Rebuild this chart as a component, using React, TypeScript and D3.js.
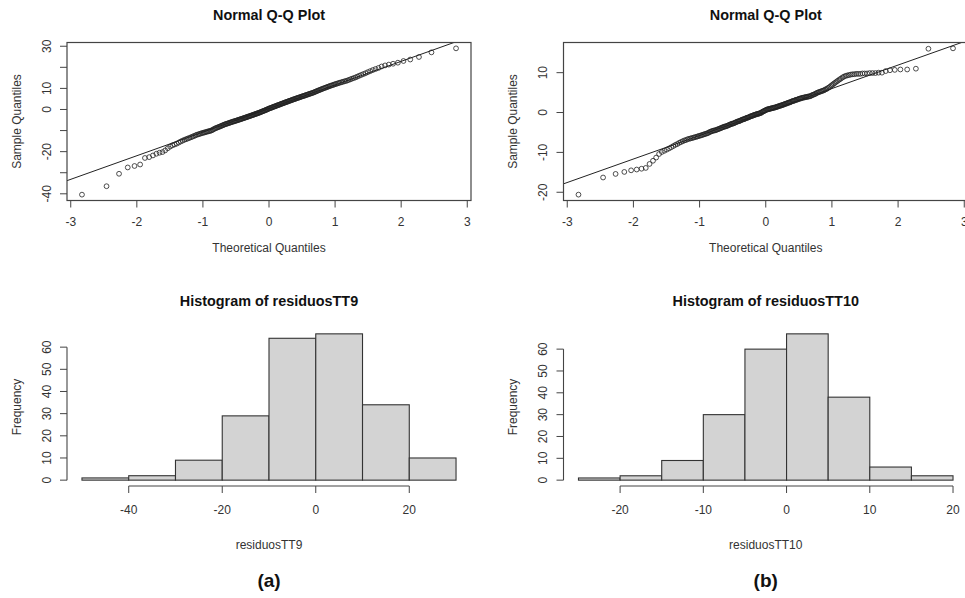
import * as d3 from "d3";

// sorted residuals (n = 215 each)
const residuosTT9 = [
  -40.4,
  -36.4, -30.5,
  -27.5, -26.8, -26.1, -23.0, -22.6, -21.8, -21.0, -20.5, -20.2,
  -19.4, -18.4, -17.6, -17.0, -16.6, -16.2, -15.7, -15.2, -14.8, -14.4,
  -14.1, -13.8, -13.5, -13.2, -12.9, -12.6, -12.3, -12.0, -11.8, -11.6,
  -11.4, -11.2, -11.0, -10.9, -10.7, -10.5, -10.4, -10.2, -10.1,
  -9.9, -9.6, -9.3, -9.0, -8.8, -8.6, -8.4, -8.2, -8.0, -7.8,
  -7.6, -7.4, -7.2, -7.0, -6.9, -6.7, -6.6, -6.4, -6.3, -6.1,
  -6.0, -5.8, -5.7, -5.6, -5.4, -5.3, -5.2, -5.0, -4.9, -4.8,
  -4.6, -4.5, -4.4, -4.2, -4.1, -4.0, -3.8, -3.7, -3.6, -3.4,
  -3.3, -3.2, -3.0, -2.9, -2.8, -2.6, -2.5, -2.4, -2.2, -2.1,
  -2.0, -1.8, -1.7, -1.6, -1.4, -1.3, -1.1, -1.0, -0.8, -0.7,
  -0.5, -0.4, -0.2, -0.1,
  0.1, 0.3, 0.4, 0.6, 0.7, 0.8, 1.0, 1.1, 1.3, 1.4,
  1.5, 1.7, 1.8, 2.0, 2.1, 2.2, 2.4, 2.5, 2.7, 2.8,
  2.9, 3.1, 3.2, 3.4, 3.5, 3.6, 3.8, 3.9, 4.1, 4.2,
  4.3, 4.5, 4.6, 4.8, 4.9, 5.0, 5.2, 5.3, 5.5, 5.6,
  5.7, 5.9, 6.0, 6.2, 6.3, 6.4, 6.6, 6.7, 6.9, 7.0,
  7.2, 7.3, 7.5, 7.6, 7.8, 7.9, 8.1, 8.3, 8.5, 8.7,
  8.9, 9.1, 9.3, 9.5, 9.7, 9.9,
  10.1, 10.3, 10.5, 10.7, 10.9, 11.1, 11.3, 11.5, 11.7, 11.9,
  12.1, 12.3, 12.5, 12.7, 12.9, 13.1, 13.3, 13.5, 13.7, 14.0,
  14.3, 14.6, 14.9, 15.2, 15.6, 16.0, 16.4, 16.8, 17.2, 17.7,
  18.2, 18.7, 19.2, 19.7,
  20.4, 20.9, 21.3, 21.7, 22.2, 23.0, 23.7, 24.9, 27.1, 29.0,
];

const residuosTT10 = [
  -20.6,
  -16.3, -15.4,
  -14.9, -14.5, -14.3, -14.1, -13.9, -12.9, -12.1, -11.3, -10.4,
  -9.9, -9.6, -9.3, -9.0, -8.7, -8.4, -8.1, -7.9, -7.6, -7.4,
  -7.2, -7.0, -6.9, -6.7, -6.6, -6.5, -6.4, -6.3, -6.2, -6.1,
  -6.0, -5.9, -5.8, -5.7, -5.6, -5.5, -5.4, -5.3, -5.2, -5.1,
  -4.9, -4.8, -4.7, -4.6, -4.5, -4.5, -4.4, -4.3, -4.2, -4.1,
  -4.0, -3.9, -3.8, -3.7, -3.6, -3.5, -3.5, -3.4, -3.3, -3.2,
  -3.1, -3.0, -2.9, -2.8, -2.8, -2.7, -2.6, -2.5, -2.4, -2.3,
  -2.2, -2.2, -2.1, -2.0, -1.9, -1.8, -1.7, -1.7, -1.6, -1.5,
  -1.4, -1.3, -1.3, -1.2, -1.1, -1.0, -0.9, -0.9, -0.8, -0.7,
  -0.6, -0.6, -0.5, -0.4, -0.4, -0.3, -0.3, -0.2, -0.1, -0.1,
  0.1, 0.2, 0.3, 0.4, 0.5, 0.6, 0.7, 0.8, 0.8, 0.9,
  0.9, 1.0, 1.0, 1.1, 1.1, 1.2, 1.2, 1.3, 1.3, 1.4,
  1.5, 1.5, 1.6, 1.7, 1.7, 1.8, 1.9, 1.9, 2.0, 2.1,
  2.2, 2.2, 2.3, 2.4, 2.5, 2.5, 2.6, 2.7, 2.8, 2.9,
  2.9, 3.0, 3.1, 3.2, 3.2, 3.3, 3.4, 3.5, 3.5, 3.6,
  3.7, 3.7, 3.8, 3.8, 3.9, 3.9, 4.0, 4.0, 4.1, 4.1,
  4.3, 4.4, 4.5, 4.6, 4.7, 4.9, 5.0,
  5.1, 5.2, 5.3, 5.4, 5.5, 5.6, 5.8, 5.9, 6.1, 6.3,
  6.5, 6.8, 7.0, 7.3, 7.5, 7.8, 8.0, 8.3, 8.5, 8.8,
  9.0, 9.2, 9.3, 9.4, 9.5, 9.6, 9.6, 9.7, 9.7, 9.7,
  9.8, 9.8, 9.8, 9.9, 9.9, 9.9, 10.0, 10.0,
  10.4, 10.6, 10.7, 10.8, 10.8, 11.0,
  16.0, 16.1,
];

// histogram bins and counts
const binEdgesTT9 = [-50, -40, -30, -20, -10, 0, 10, 20, 30];
const countsTT9 = [1, 2, 9, 29, 64, 66, 34, 10];
const binEdgesTT10 = [-25, -20, -15, -10, -5, 0, 5, 10, 15, 20];
const countsTT10 = [1, 2, 9, 30, 60, 67, 38, 6, 2];

// ticks
const qqXTicks = [-3, -2, -1, 0, 1, 2, 3];
const qqYTicksTT9 = [-40, -30, -20, -10, 0, 10, 20, 30];
const qqYLabelsTT9 = [-40, -20, 0, 10, 30];
const qqYTicksTT10 = [-20, -10, 0, 10];
const histYTicks = [0, 10, 20, 30, 40, 50, 60];
const histXTicksTT9 = [-40, -20, 0, 20];
const histXTicksTT10 = [-20, -10, 0, 10, 20];

const FONT = "'Liberation Sans', Arial, Helvetica, sans-serif";
const AXIS = "#444";
const INK = "#222";

// inverse normal cdf (Acklam)
function qnorm(p: number): number {
  const a = [-39.69683028665376, 220.9460984245205, -275.9285104469687, 138.357751867269, -30.66479806614716, 2.506628277459239];
  const b = [-54.47609879822406, 161.5858368580409, -155.6989798598866, 66.80131188771972, -13.28068155288572];
  const c = [-0.007784894002430293, -0.3223964580411365, -2.400758277161838, -2.549732539343734, 4.374664141464968, 2.938163982698783];
  const d = [0.007784695709041462, 0.3224671290700398, 2.445134137142996, 3.754408661907416];
  const pl = 0.02425;
  if (p < pl) {
    const q = Math.sqrt(-2 * Math.log(p));
    return (((((c[0] * q + c[1]) * q + c[2]) * q + c[3]) * q + c[4]) * q + c[5]) /
      ((((d[0] * q + d[1]) * q + d[2]) * q + d[3]) * q + 1);
  }
  if (p > 1 - pl) {
    const q = Math.sqrt(-2 * Math.log(1 - p));
    return -(((((c[0] * q + c[1]) * q + c[2]) * q + c[3]) * q + c[4]) * q + c[5]) /
      ((((d[0] * q + d[1]) * q + d[2]) * q + d[3]) * q + 1);
  }
  const q = p - 0.5;
  const r = q * q;
  return ((((((a[0] * r + a[1]) * r + a[2]) * r + a[3]) * r + a[4]) * r + a[5]) * q) /
    (((((b[0] * r + b[1]) * r + b[2]) * r + b[3]) * r + b[4]) * r + 1);
}

// R style 4% padding
const pad = (lo: number, hi: number) => {
  const e = (hi - lo) * 0.04;
  return [lo - e, hi + e];
};

function QQPanel({ id, sample, x0, x1, yTicks, yLabels }: any) {
  const y0 = 42.5, y1 = 200.5;
  const n = sample.length;
  const theo = sample.map((_: number, i: number) => qnorm((i + 0.5) / n));
  const x = d3.scaleLinear().domain(pad(d3.min(theo)!, d3.max(theo)!)).range([x0, x1]);
  const y = d3.scaleLinear().domain(pad(d3.min(sample)!, d3.max(sample)!)).range([y1, y0]);

  // qqline through the quartiles
  const q1 = d3.quantile(sample, 0.25)!, q3 = d3.quantile(sample, 0.75)!;
  const z1 = qnorm(0.25), z3 = qnorm(0.75);
  const slope = (q3 - q1) / (z3 - z1);
  const icept = q1 - slope * z1;
  const [za, zb] = x.domain();

  const cx = (x0 + x1) / 2;
  const cy = (y0 + y1) / 2;

  return (
    <g>
      <defs>
        <clipPath id={id}>
          <rect x={x0} y={y0} width={x1 - x0} height={y1 - y0} />
        </clipPath>
      </defs>
      <text x={cx} y={20} textAnchor="middle" fontWeight="bold" fontSize={14.4} fill="#111">
        Normal Q-Q Plot
      </text>
      {sample.map((v: number, i: number) => (
        <circle key={i} cx={x(theo[i])} cy={y(v)} r={2.4} fill="none" stroke={INK} strokeWidth={0.8} />
      ))}
      <line
        clipPath={`url(#${id})`}
        x1={x(za)} y1={y(icept + slope * za)}
        x2={x(zb)} y2={y(icept + slope * zb)}
        stroke={INK} strokeWidth={1}
      />
      <rect x={x0} y={y0} width={x1 - x0} height={y1 - y0} fill="none" stroke={AXIS} strokeWidth={1.2} />
      {qqXTicks.map((t) => (
        <g key={t}>
          <line x1={x(t)} x2={x(t)} y1={y1} y2={y1 + 7} stroke={AXIS} />
          <text x={x(t)} y={226} textAnchor="middle" fontSize={12} fill="#333">{t}</text>
        </g>
      ))}
      {yTicks.map((t: number) => (
        <line key={t} x1={x0 - 7} x2={x0} y1={y(t)} y2={y(t)} stroke={AXIS} />
      ))}
      {yLabels.map((t: number) => (
        <text key={t} transform={`translate(${x0 - 16.5},${y(t)}) rotate(-90)`} textAnchor="middle" fontSize={12} fill="#333">
          {t}
        </text>
      ))}
      <text x={cx} y={252} textAnchor="middle" fontSize={12} fill="#333">Theoretical Quantiles</text>
      <text transform={`translate(${x0 - 46.5},${cy}) rotate(-90)`} textAnchor="middle" fontSize={12} fill="#333">
        Sample Quantiles
      </text>
    </g>
  );
}

function HistPanel({ name, edges, counts, x0, x1, xTicks }: any) {
  const y0 = 328, y1 = 486;
  const x = d3.scaleLinear().domain(pad(edges[0], edges[edges.length - 1])).range([x0, x1]);
  const y = d3.scaleLinear().domain(pad(0, d3.max(counts as number[])!)).range([y1, y0]);
  const cx = (x0 + x1) / 2;
  const cy = (y0 + y1) / 2;

  return (
    <g>
      <text x={cx} y={306} textAnchor="middle" fontWeight="bold" fontSize={14.4} fill="#111">
        {`Histogram of ${name}`}
      </text>
      {counts.map((c: number, i: number) => (
        <rect
          key={i}
          x={x(edges[i])}
          y={y(c)}
          width={x(edges[i + 1]) - x(edges[i])}
          height={y(0) - y(c)}
          fill="#d3d3d3"
          stroke="#333"
          strokeWidth={1.1}
        />
      ))}
      <line x1={x(xTicks[0])} x2={x(xTicks[xTicks.length - 1])} y1={y1} y2={y1} stroke={AXIS} strokeWidth={1.1} />
      {xTicks.map((t: number) => (
        <g key={t}>
          <line x1={x(t)} x2={x(t)} y1={y1} y2={y1 + 7} stroke={AXIS} />
          <text x={x(t)} y={514} textAnchor="middle" fontSize={12} fill="#333">{t}</text>
        </g>
      ))}
      <line x1={x0} x2={x0} y1={y(histYTicks[0])} y2={y(histYTicks[histYTicks.length - 1])} stroke={AXIS} strokeWidth={1.1} />
      {histYTicks.map((t) => (
        <g key={t}>
          <line x1={x0 - 7} x2={x0} y1={y(t)} y2={y(t)} stroke={AXIS} />
          <text transform={`translate(${x0 - 16.5},${y(t)}) rotate(-90)`} textAnchor="middle" fontSize={12} fill="#333">
            {t}
          </text>
        </g>
      ))}
      <text x={cx} y={549} textAnchor="middle" fontSize={12} fill="#333">{name}</text>
      <text transform={`translate(${x0 - 46.5},${cy}) rotate(-90)`} textAnchor="middle" fontSize={12} fill="#333">
        Frequency
      </text>
    </g>
  );
}

export default function App() {
  const colA = [67, 471];
  const colB = [563.5, 968];
  return (
    <svg
      width={965}
      height={598}
      style={{ position: "absolute", left: 0, top: 0, background: "#fff", overflow: "hidden" }}
      fontFamily={FONT}
    >
      <rect width={965} height={598} fill="#fff" />
      <QQPanel id="clipA" sample={residuosTT9} x0={colA[0]} x1={colA[1]} yTicks={qqYTicksTT9} yLabels={qqYLabelsTT9} />
      <QQPanel id="clipB" sample={residuosTT10} x0={colB[0]} x1={colB[1]} yTicks={qqYTicksTT10} yLabels={qqYTicksTT10} />
      <HistPanel name="residuosTT9" edges={binEdgesTT9} counts={countsTT9} x0={colA[0]} x1={colA[1]} xTicks={histXTicksTT9} />
      <HistPanel name="residuosTT10" edges={binEdgesTT10} counts={countsTT10} x0={colB[0]} x1={colB[1]} xTicks={histXTicksTT10} />
      <text x={(colA[0] + colA[1]) / 2} y={587} textAnchor="middle" fontWeight="bold" fontSize={19} fill="#111">(a)</text>
      <text x={(colB[0] + colB[1]) / 2} y={587} textAnchor="middle" fontWeight="bold" fontSize={19} fill="#111">(b)</text>
    </svg>
  );
}
